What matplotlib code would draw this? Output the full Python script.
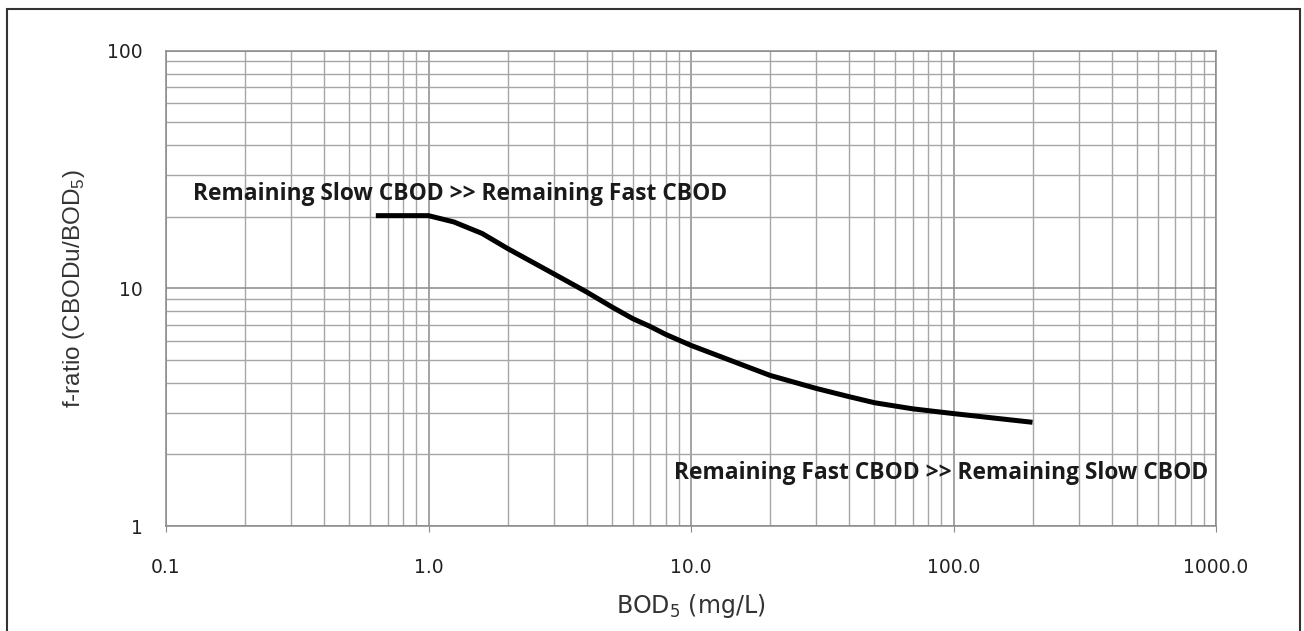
import matplotlib
matplotlib.use('Agg')
import matplotlib.pyplot as plt
from matplotlib.ticker import FixedLocator, FixedFormatter, NullFormatter, LogLocator
from matplotlib.patches import Rectangle

# f-ratio curve read along BOD5
bod5 = [0.63, 1.0, 1.25, 1.6, 2.0, 3.0, 4.0, 5.0, 6.0, 7.0, 8.0, 10.0, 20.0, 30.0, 40.0, 50.0, 70.0, 100.0, 200.0]
f_ratio = [20.2, 20.2, 19.0, 17.0, 14.7, 11.5, 9.65, 8.34, 7.45, 6.9, 6.4, 5.75, 4.3, 3.79, 3.5, 3.3, 3.11, 2.97, 2.73]

x_ticks = [0.1, 1.0, 10.0, 100.0, 1000.0]
x_labels = ['0.1', '1.0', '10.0', '100.0', '1000.0']
y_ticks = [1, 10, 100]
y_labels = ['1', '10', '100']

note_top = 'Remaining Slow CBOD >> Remaining Fast CBOD'
note_bottom = 'Remaining Fast CBOD >> Remaining Slow CBOD'

tick_font = 'DejaVu Sans'
note_font = 'Open Sans'

fig = plt.figure(figsize=(13.04, 6.31), dpi=100)
ax = fig.add_axes([166 / 1304, 105 / 631, 1050 / 1304, 475.5 / 631])

ax.set_xscale('log')
ax.set_yscale('log')
ax.set_xlim(0.1, 1000)
ax.set_ylim(1, 100)

ax.xaxis.set_major_locator(FixedLocator(x_ticks))
ax.xaxis.set_major_formatter(FixedFormatter(x_labels))
ax.yaxis.set_major_locator(FixedLocator(y_ticks))
ax.yaxis.set_major_formatter(FixedFormatter(y_labels))
ax.xaxis.set_minor_locator(LogLocator(base=10, subs=range(2, 10)))
ax.yaxis.set_minor_locator(LogLocator(base=10, subs=range(2, 10)))
ax.xaxis.set_minor_formatter(NullFormatter())
ax.yaxis.set_minor_formatter(NullFormatter())

ax.grid(which='major', color='#8a8a8a', linewidth=1.1)
ax.grid(which='minor', color='#a6a6a6', linewidth=1.0)
ax.set_axisbelow(True)

for s in ax.spines.values():
    s.set_color('#8a8a8a')
    s.set_linewidth(1.1)

ax.tick_params(axis='x', which='major', length=4, color='#8a8a8a', pad=19,
               labelsize=13.5, labelcolor='#222222')
ax.tick_params(axis='y', which='major', length=0, pad=16.5,
               labelsize=13.5, labelcolor='#222222')
ax.tick_params(which='minor', length=0)
for lab in ax.get_xticklabels() + ax.get_yticklabels():
    lab.set_fontfamily(tick_font)

ax.plot(bod5, f_ratio, color='black', linewidth=3.6,
        solid_joinstyle='round', solid_capstyle='butt')

ax.text(0.127, 23.5, note_top, family=note_font, fontweight='bold',
        fontsize=16.4, color='#1a1a1a', ha='left', va='baseline')
ax.text(8.63, 1.57, note_bottom, family=note_font, fontweight='bold',
        fontsize=16.4, color='#1a1a1a', ha='left', va='baseline')

ax.set_xlabel('BOD$_\\mathregular{5}$ (mg/L)', family=tick_font, fontsize=17,
              color='#333333', labelpad=11)
ax.set_ylabel('f-ratio (CBODu/BOD$_\\mathregular{5}$)', family='Liberation Sans',
              fontsize=17.5, color='#333333', labelpad=15)

# outer chart frame
fig.patches.append(Rectangle((7 / 1304, -0.05), 1293 / 1304, 1.05 - 9 / 631,
                             transform=fig.transFigure, fill=False,
                             edgecolor='#333333', linewidth=1.5))

fig.savefig('out.png', dpi=100)
